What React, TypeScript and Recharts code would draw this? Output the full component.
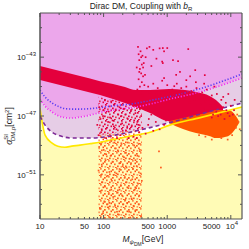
import { ComposedChart, Area, Line, Scatter, XAxis, YAxis } from "recharts"

// log10(M / GeV) sample points shared by the limit curves
const curveX = [1.0, 1.08, 1.19, 1.28, 1.39, 1.5, 1.63, 1.79, 1.94, 2.18, 2.42, 2.73, 3.04, 3.52, 4.176]
// log10(sigma / cm^2)
const blueLimit = [-45.24, -45.71, -46.12, -46.33, -46.5, -46.53, -46.53, -46.5, -46.43, -46.29, -46.19, -45.95, -45.68, -45.14, -44.15]
const magentaLimit = [-45.85, -46.33, -46.73, -46.97, -47.11, -47.14, -47.07, -46.94, -46.77, -46.6, -46.46, -46.19, -45.85, -45.37, -44.42]
const dashedLimit = [-47.01, -47.62, -48.1, -48.3, -48.44, -48.5, -48.5, -48.5, -48.47, -48.3, -48.1, -47.79, -47.45, -46.87, -46.12]
const nuFloor = [-46.46, -48.3, -48.84, -49.05, -49.12, -49.05, -48.98, -48.88, -48.78, -48.57, -48.37, -48.1, -47.62, -47.11, -46.39]

// dense red band / wedge
const bandX = [1.0, 1.314, 1.629, 1.943, 2.148, 2.336, 2.509, 2.73, 3.028, 3.28, 3.453, 3.673, 3.767, 3.877]
const bandTop = [-43.61, -43.95, -44.29, -44.63, -44.83, -45.03, -45.24, -45.24, -45.17, -45.24, -45.37, -45.65, -45.92, -46.39]
const bandBottom = [-44.56, -44.9, -45.24, -45.58, -45.85, -46.12, -46.39, -46.8, -47.35, -47.21, -47.01, -46.8, -46.67, -46.6]

// dense orange blob
const blobX = [3.028, 3.248, 3.453, 3.673, 3.767, 3.956, 4.082, 4.129]
const blobTop = [-47.35, -47.14, -46.94, -46.73, -46.6, -46.6, -47.01, -47.35]
const blobBottom = [-47.48, -47.89, -48.16, -48.37, -48.5, -48.37, -47.82, -47.48]

// speckled vertical column of points around M ~ 100-400 GeV
const columnX = [1.92, 2.6]
const columnLowTop = [-48.3, -47.9]
const columnHighTop = [-45.7, -46.3]

// scattered points [log10 M, log10 sigma]
const orangePoints = [
  [1.93, -49.1], [1.97, -50.3], [2.02, -51.8], [2.07, -53.2], [2.11, -49.7], [2.15, -52.5], [2.2, -50.9], [2.24, -53.7],
  [2.28, -48.9], [2.33, -51.2], [2.37, -52.9], [2.41, -49.9], [2.46, -50.6], [2.5, -53.4], [2.54, -51.6], [2.57, -49.3],
  [1.95, -52.1], [1.99, -53.6], [2.04, -49.6], [2.09, -50.8], [2.13, -51.4], [2.17, -48.8], [2.22, -52.2], [2.26, -50.2],
  [2.31, -53.0], [2.35, -49.5], [2.39, -51.9], [2.44, -52.6], [2.48, -49.0], [2.52, -50.4], [2.56, -52.4], [2.59, -53.8],
  [1.92, -50.7], [1.96, -48.9], [2.01, -52.8], [2.05, -51.1], [2.1, -53.9], [2.14, -50.1], [2.18, -53.1], [2.23, -49.4],
  [2.27, -51.7], [2.32, -49.8], [2.36, -50.5], [2.4, -53.5], [2.45, -51.3], [2.49, -52.0], [2.53, -49.7], [2.58, -50.9],
  [1.94, -53.3], [1.98, -51.5], [2.03, -50.0], [2.08, -52.3], [2.12, -48.7], [2.16, -51.0], [2.21, -53.5], [2.25, -52.0],
  [2.3, -50.4], [2.34, -52.7], [2.38, -48.8], [2.43, -50.2], [2.47, -53.1], [2.51, -51.9], [2.55, -48.9], [2.6, -51.4],
  [1.96, -51.0], [2.0, -49.3], [2.06, -53.0], [2.12, -52.0], [2.19, -49.2], [2.29, -52.4], [2.42, -53.9], [2.5, -50.0],
  [2.55, -53.0], [2.36, -51.5], [2.25, -50.6], [2.09, -52.9], [2.87, -49.4], [2.9, -50.5],
  [3.95, -48.6], [4.02, -48.3], [4.08, -47.8], [4.12, -47.4], [3.85, -48.5], [3.7, -48.6], [3.6, -48.4], [4.1, -46.9],
  [4.14, -47.9], [3.5, -48.3],
]

const redPoints = [
  [1.9, -47.6], [1.93, -46.4], [1.96, -48.1], [1.99, -47.0], [2.02, -45.9], [2.05, -47.8], [2.08, -46.7], [2.11, -48.4],
  [2.14, -47.3], [2.17, -46.2], [2.2, -47.9], [2.23, -46.9], [2.26, -48.3], [2.29, -47.5], [2.32, -46.5], [2.35, -48.0],
  [2.38, -47.2], [2.41, -46.1], [2.44, -47.7], [2.47, -48.4], [2.5, -46.8], [2.53, -47.4], [2.56, -48.1], [2.59, -47.0],
  [1.92, -48.3], [1.95, -47.2], [2.0, -46.6], [2.04, -48.5], [2.07, -47.4], [2.12, -46.0], [2.16, -47.7], [2.21, -48.5],
  [2.25, -46.4], [2.3, -48.0], [2.34, -46.9], [2.39, -48.5], [2.43, -46.6], [2.48, -47.3], [2.52, -48.5], [2.57, -46.5],
  [2.61, -47.8], [1.97, -47.9], [2.1, -47.1], [2.19, -46.6], [2.28, -47.0], [2.37, -47.8], [2.46, -46.3], [2.55, -47.6],
  // plume
  [2.54, -42.3], [2.58, -42.6], [2.61, -42.9], [2.56, -43.2], [2.6, -43.5], [2.63, -43.4], [2.57, -43.8], [2.59, -44.1],
  [2.62, -44.3], [2.55, -44.5], [2.6, -44.7], [2.64, -44.9], [2.57, -45.0], [2.53, -45.2], [2.61, -45.3], [2.66, -43.0],
  [2.68, -42.4], [2.52, -43.7], [2.65, -44.2], [2.58, -45.5], [2.56, -44.0], [2.62, -43.7], [2.59, -43.0], [2.55, -42.8],
  [2.72, -42.3], [2.78, -42.5], [2.88, -42.4], [2.95, -42.6], [2.83, -43.1], [2.75, -43.6], [2.92, -43.3],
  [2.93, -42.38], [3.0, -42.38], [3.33, -42.45], [2.93, -43.4], [3.17, -43.27], [3.09, -43.2], [3.59, -44.22],
  [3.44, -43.88], [2.95, -44.42], [3.3, -44.56], [3.14, -44.2], [3.45, -44.7], [3.11, -44.97],
  // around the wedge
  [2.7, -45.0], [2.78, -44.8], [2.85, -45.1], [2.92, -44.6], [3.0, -44.9], [3.08, -45.2], [3.15, -44.8], [3.22, -45.1],
  [3.3, -45.0], [3.38, -45.3], [3.46, -45.1], [3.55, -45.4], [3.62, -45.2], [3.7, -45.6], [3.78, -45.5], [3.85, -45.9],
  [3.92, -46.1], [4.0, -46.3], [4.05, -46.6], [3.5, -45.8], [3.6, -46.0], [3.68, -46.3], [3.75, -46.2], [3.82, -46.5],
  [3.88, -46.4], [3.95, -46.8], [3.72, -46.9], [3.8, -47.0], [3.9, -47.2], [3.58, -46.5], [3.4, -45.7], [3.25, -45.5],
  [3.12, -45.4], [2.75, -46.9], [2.82, -47.4], [2.88, -47.9], [2.7, -47.6], [2.66, -48.2], [2.78, -48.0], [2.95, -47.6],
  [2.62, -45.6], [2.68, -45.9], [2.74, -46.2], [2.8, -45.7], [2.86, -46.0], [2.9, -46.4], [2.97, -45.8], [3.03, -46.1],
  [3.1, -45.6], [3.18, -46.0], [3.27, -45.8], [3.35, -46.1], [3.43, -45.9], [3.52, -46.2], [3.63, -46.6], [3.7, -47.1],
  [3.77, -46.7], [3.84, -46.9], [3.93, -46.6], [3.98, -47.0], [4.03, -46.9], [3.66, -45.9], [3.56, -45.6], [3.47, -45.5],
  [3.33, -45.4], [3.2, -45.3], [3.05, -45.5], [2.93, -45.3], [2.83, -45.5], [2.72, -45.4], [2.66, -46.6], [2.71, -47.2],
  [2.79, -46.5], [2.85, -46.8], [2.92, -47.1], [3.0, -46.6], [2.98, -47.3], [3.06, -46.9], [3.88, -45.7], [3.96, -45.5],
  [4.06, -45.9], [3.74, -45.0], [3.58, -44.8], [3.36, -44.3], [3.2, -44.0],
]

const xMajor = [1, 2, 3, 4]
const xLabels: Record<string, string> = { "1": "10", "1.699": "50", "2": "100", "2.699": "500", "3": "1000", "3.699": "5000", "4": "10^4" }
const yLabels = [-51, -47, -43]

const X_MIN = 1
const X_MAX = 4.176
const Y_MIN = -54
const Y_MAX = -40

const xTicks: number[] = []
for (let d = 1; d <= 4; d++) {
  for (let k = 1; k <= 9; k++) {
    const v = +(d + Math.log10(k)).toFixed(3)
    if (v <= X_MAX) xTicks.push(v)
  }
}
const yTicks: number[] = []
for (let e = Y_MIN + 1; e < Y_MAX; e++) yTicks.push(e)

const curves = curveX.map((x, i) => ({
  x,
  blue: blueLimit[i],
  mag: magentaLimit[i],
  dash: dashedLimit[i],
  yel: nuFloor[i],
  pink: [magentaLimit[i], Y_MAX],
  lav: [dashedLimit[i], magentaLimit[i]],
  floor: [Y_MIN, nuFloor[i]],
}))
const band = bandX.map((x, i) => ({ x, r: [bandBottom[i], bandTop[i]] }))
const blob = blobX.map((x, i) => ({ x, r: [blobBottom[i], blobTop[i]] }))
const colLow = columnX.map((x, i) => ({ x, r: [Y_MIN, columnLowTop[i]] }))
const colHigh = columnX.map((x, i) => ({ x, r: [columnLowTop[i], columnHighTop[i]] }))
const orange = orangePoints.map(([x, y]) => ({ x, y }))
const red = redPoints.map(([x, y]) => ({ x, y }))

const FONT = "'Liberation Sans', Arial, sans-serif"
const TICK = "#555"

const Sup = ({ base, exp, ...rest }: any) => (
  <text fontFamily={FONT} fontSize={8} fill="#222" {...rest}>
    <tspan>{base}</tspan>
    <tspan dy={-4} fontSize={6}>{exp}</tspan>
  </text>
)

const XTick = ({ x, y, payload, top }: any) => {
  const v = payload.value
  const major = xMajor.includes(v)
  const len = major ? 4 : 2
  const lab = top ? undefined : xLabels[String(v)]
  return (
    <g>
      <line x1={x} x2={x} y1={y} y2={top ? y + len : y - len} stroke={TICK} />
      {lab && lab.includes("^") ? (
        <Sup x={x - 5} y={y + 10} base="10" exp="4" />
      ) : lab ? (
        <text x={x} y={y + 10} textAnchor="middle" fontFamily={FONT} fontSize={8} fill="#222">{lab}</text>
      ) : null}
    </g>
  )
}

const YTick = ({ x, y, payload, right }: any) => {
  const v = payload.value
  const major = yLabels.includes(v)
  const len = major ? 4 : 2
  return (
    <g>
      <line x1={x} x2={right ? x - len : x + len} y1={y} y2={y} stroke={TICK} />
      {!right && major ? <Sup x={x - 4} y={y + 3} textAnchor="end" base="10" exp={`−${-v}`} /> : null}
    </g>
  )
}

const dot = (fill: string) => (p: any) => <rect x={p.cx - 0.8} y={p.cy - 0.8} width={1.7} height={1.7} fill={fill} />

export default function App() {
  return (
    <div style={{ position: "relative", width: 249, height: 249, background: "#fff" }}>
      <style>{"body{margin:0}"}</style>
      <svg width={0} height={0} style={{ position: "absolute" }}>
        <defs>
          <pattern id="speckOrange" width={8} height={8} patternUnits="userSpaceOnUse">
            <rect x={0} y={1} width={1.7} height={1.7} fill="#ff5a1e" />
            <rect x={4} y={0} width={1.7} height={1.7} fill="#ff8040" />
            <rect x={6.5} y={2.5} width={1.7} height={1.7} fill="#ff4a10" />
            <rect x={2} y={3.5} width={1.7} height={1.7} fill="#ff6a2a" />
            <rect x={5} y={5.5} width={1.7} height={1.7} fill="#ff5a1e" />
            <rect x={0.5} y={6} width={1.7} height={1.7} fill="#ff9a60" />
            <rect x={3} y={7} width={1.7} height={1.7} fill="#ff5a1e" />
          </pattern>
          <pattern id="speckRed" width={8} height={8} patternUnits="userSpaceOnUse">
            <rect x={1} y={0} width={1.7} height={1.7} fill="#e4003c" />
            <rect x={5} y={1.5} width={1.7} height={1.7} fill="#e8204a" />
            <rect x={0} y={3.5} width={1.7} height={1.7} fill="#e4003c" />
            <rect x={3} y={4.5} width={1.7} height={1.7} fill="#ea3050" />
            <rect x={6.5} y={5.5} width={1.7} height={1.7} fill="#e4003c" />
            <rect x={2} y={7} width={1.7} height={1.7} fill="#e4003c" />
          </pattern>
        </defs>
      </svg>
      <ComposedChart width={249} height={249} data={curves} margin={{ top: 12, right: 6, bottom: 0, left: 0 }}>
        <XAxis dataKey="x" type="number" domain={[X_MIN, X_MAX]} allowDataOverflow ticks={xTicks} interval={0}
          height={30} tickSize={0} tickMargin={0} tickLine={false} axisLine={{ stroke: TICK, strokeWidth: 1.2 }} tick={<XTick />} />
        <XAxis xAxisId="top" orientation="top" dataKey="x" type="number" domain={[X_MIN, X_MAX]} allowDataOverflow ticks={xTicks}
          interval={0} height={1} tickSize={0} tickMargin={0} tickLine={false} axisLine={{ stroke: TICK, strokeWidth: 1.2 }} tick={<XTick top />} />
        <YAxis type="number" domain={[Y_MIN, Y_MAX]} allowDataOverflow ticks={yTicks} interval={0}
          width={40} tickSize={0} tickMargin={0} tickLine={false} axisLine={{ stroke: TICK, strokeWidth: 1.5 }} tick={<YTick />} />
        <YAxis yAxisId="right" orientation="right" type="number" domain={[Y_MIN, Y_MAX]} allowDataOverflow ticks={yTicks}
          interval={0} width={1} tickSize={0} tickMargin={0} tickLine={false} axisLine={{ stroke: TICK, strokeWidth: 1.2 }} tick={<YTick right />} />

        <Area dataKey="pink" type="monotone" stroke="none" fill="#eca7eb" fillOpacity={1} isAnimationActive={false} />
        <Area dataKey="lav" type="monotone" stroke="none" fill="#e6cde6" fillOpacity={1} isAnimationActive={false} />
        <Area dataKey="floor" type="monotone" stroke="none" fill="#fffbb6" fillOpacity={1} isAnimationActive={false} />

        <Area data={colLow} dataKey="r" type="linear" stroke="none" fill="url(#speckOrange)" fillOpacity={1} isAnimationActive={false} />
        <Area data={colHigh} dataKey="r" type="linear" stroke="none" fill="url(#speckRed)" fillOpacity={1} isAnimationActive={false} />
        <Area data={band} dataKey="r" type="monotone" stroke="none" fill="#e4003c" fillOpacity={1} isAnimationActive={false} />
        <Area data={blob} dataKey="r" type="monotone" stroke="none" fill="#ff5500" fillOpacity={1} isAnimationActive={false} />

        <Scatter data={orange} dataKey="y" shape={dot("#ff5a1e")} isAnimationActive={false} />
        <Scatter data={red} dataKey="y" shape={dot("#e4003c")} isAnimationActive={false} />

        <Line dataKey="yel" type="monotone" stroke="#ffe800" strokeWidth={1.6} dot={false} isAnimationActive={false} />
        <Line dataKey="dash" type="monotone" stroke="#7e2a96" strokeWidth={1.6} strokeDasharray="4 3" dot={false} isAnimationActive={false} />
        <Line dataKey="mag" type="monotone" stroke="#f133f0" strokeWidth={1.6} strokeDasharray="1.2 1.8" dot={false} isAnimationActive={false} />
        <Line dataKey="blue" type="monotone" stroke="#5b3cf2" strokeWidth={1.6} strokeDasharray="1.2 1.8" dot={false} isAnimationActive={false} />
      </ComposedChart>
      <svg width={249} height={249} style={{ position: "absolute", left: 0, top: 0, pointerEvents: "none" }}>
        <text x={141} y={9} textAnchor="middle" fontFamily={FONT} fontSize={8.5} fill="#222">
          Dirac DM, Coupling with <tspan fontStyle="italic">b</tspan>
          <tspan dy={2} fontSize={6}>R</tspan>
        </text>
        <text transform="translate(12,126) rotate(-90)" textAnchor="middle" fontFamily={FONT} fontSize={8.5} fill="#222">
          <tspan fontStyle="italic">σ</tspan>
          <tspan dy={-4} fontSize={6}>SI</tspan>
          <tspan dx={-7} dy={7} fontSize={6}>DM,p</tspan>
          <tspan dy={-3}>[cm</tspan>
          <tspan dy={-3} fontSize={6}>2</tspan>
          <tspan dy={3}>]</tspan>
        </text>
        <text x={143} y={242} textAnchor="middle" fontFamily={FONT} fontSize={8.5} fill="#222">
          <tspan fontStyle="italic">M</tspan>
          <tspan dy={2} fontSize={6} fontStyle="italic">ψ</tspan>
          <tspan dy={2} fontSize={5}>DM</tspan>
          <tspan dy={-4}>[GeV]</tspan>
        </text>
      </svg>
    </div>
  )
}
